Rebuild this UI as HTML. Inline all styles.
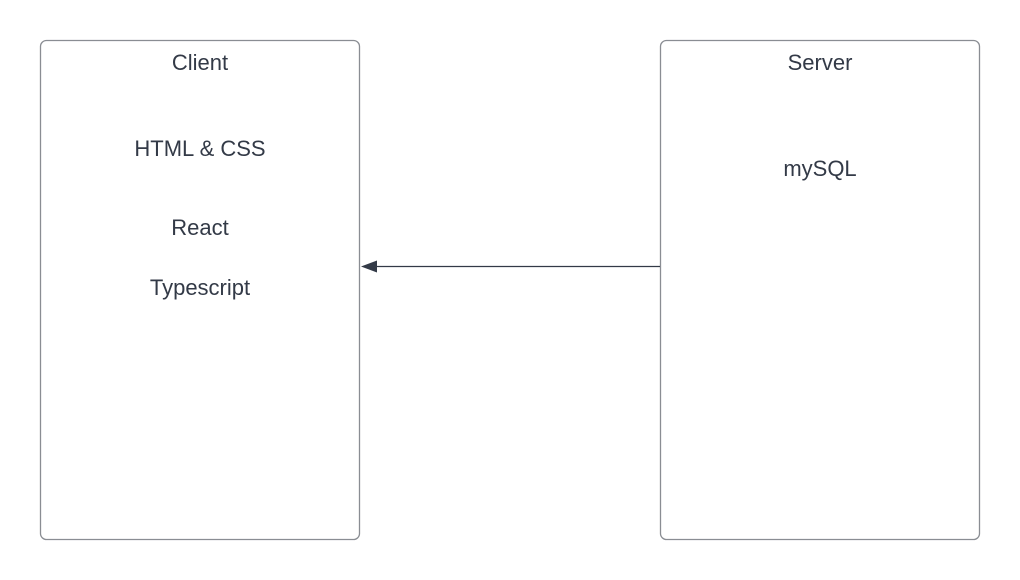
<!DOCTYPE html>
<html><head><style>
html,body{margin:0;padding:0;background:#fff;width:1020px;height:580px;overflow:hidden}
</style></head><body>
<svg width="1020" height="580" xmlns="http://www.w3.org/2000/svg" font-family="Liberation Sans, sans-serif" font-size="22" fill="#333a47">
<rect x="40.5" y="40.5" width="319" height="499" rx="6" fill="#fff" stroke="#8a8d93" stroke-width="1.3"/>
<rect x="660.5" y="40.5" width="319" height="499" rx="6" fill="#fff" stroke="#8a8d93" stroke-width="1.3"/>
<line x1="660" y1="266.5" x2="372" y2="266.5" stroke="#333a47" stroke-width="1.3"/>
<polygon points="361,266.5 377,260.5 377,272.5" fill="#333a47"/>
<g text-anchor="middle">
<text x="200" y="70">Client</text>
<text x="200" y="156">HTML &amp; CSS</text>
<text x="200" y="235">React</text>
<text x="200" y="295">Typescript</text>
<text x="820" y="70">Server</text>
<text x="820" y="176">mySQL</text>
</g>
</svg>
</body></html>
